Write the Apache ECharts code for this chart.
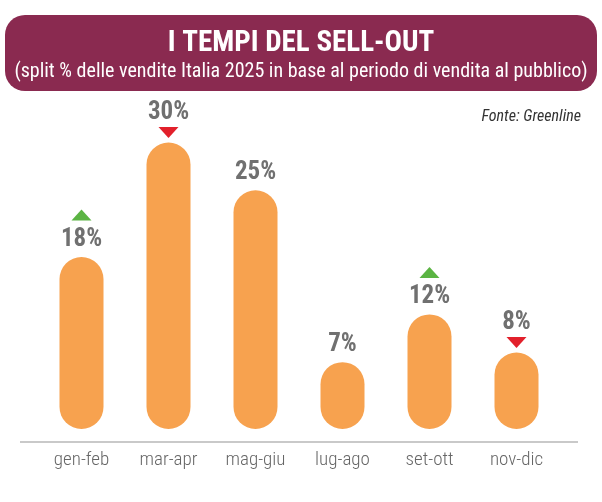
<!DOCTYPE html>
<html lang="it">
<head>
    <meta charset="UTF-8">
    <title>I tempi del sell-out</title>
    <style>
        html, body { margin: 0; padding: 0; background: #fff; }
        #main { width: 602px; height: 502px; }
    </style>
</head>
<body>
    <div id="main"></div>
    <script src="https://cdn.jsdelivr.net/npm/echarts@6/dist/echarts.min.js"></script>
    <script>
        // dati
        var periodi = ['gen-feb', 'mar-apr', 'mag-giu', 'lug-ago', 'set-ott', 'nov-dic'];
        var quote = [18, 30, 25, 7, 12, 8];
        // andamento: 1 su, -1 giù, 0 nessun segno
        var trend = [1, -1, 0, 0, 1, -1];

        var narrow = '"Roboto Condensed", "Open Sans Condensed", sans-serif';

        var chart = echarts.init(document.getElementById('main'));

        var barData = quote.map(function (v, i) {
            return {
                value: v,
                label: { distance: trend[i] < 0 ? 17 : 5 }
            };
        });

        var markerData = quote.map(function (v, i) {
            if (!trend[i]) return '-';
            var up = trend[i] > 0;
            return {
                value: v,
                symbolRotate: up ? 0 : 180,
                symbolOffset: [0, up ? -42 : -10],
                itemStyle: { color: up ? '#5BB443' : '#E2202B' }
            };
        });

        chart.setOption({
            backgroundColor: '#fff',
            title: [{
                text: 'I TEMPI DEL SELL-OUT',
                subtext: '(split % delle vendite Italia 2025 in base al periodo di vendita al pubblico)',
                left: 'center',
                top: 24,
                itemGap: 4,
                textStyle: { color: '#fff', fontSize: 29, fontWeight: 'bold', fontFamily: narrow },
                subtextStyle: { color: '#fff', fontSize: 20, fontFamily: narrow }
            }, {
                text: 'Fonte: Greenline',
                right: 16,
                top: 104,
                textStyle: { color: '#333', fontSize: 16, fontWeight: 'normal', fontStyle: 'italic', fontFamily: narrow }
            }],
            graphic: [{
                type: 'rect',
                z: 0,
                shape: { x: 5, y: 15, width: 592, height: 76, r: 20 },
                style: { fill: '#8A2A50' }
            }, {
                type: 'line',
                z: 0,
                shape: { x1: 20, y1: 442, x2: 578, y2: 442 },
                style: { stroke: '#C9C9C9', lineWidth: 2 }
            }],
            grid: { left: 38, right: 42, top: 47, bottom: 73 },
            xAxis: {
                type: 'category',
                data: periodi,
                axisLine: { show: false },
                axisTick: { show: false },
                axisLabel: { color: '#666', fontSize: 19, fontWeight: 300, margin: 22, fontFamily: narrow }
            },
            yAxis: {
                type: 'value',
                min: 0,
                max: 40,
                show: false
            },
            series: [{
                type: 'bar',
                data: barData,
                barWidth: 44,
                itemStyle: { color: '#F7A24F', borderRadius: 22 },
                label: {
                    show: true,
                    position: 'top',
                    formatter: '{c}%',
                    color: '#707070',
                    fontSize: 25,
                    fontWeight: 'bold',
                    fontFamily: narrow
                }
            }, {
                type: 'scatter',
                data: markerData,
                symbol: 'triangle',
                symbolSize: [20, 11],
                itemStyle: { opacity: 1 },
                z: 3
            }]
        });
    </script>
</body>
</html>
